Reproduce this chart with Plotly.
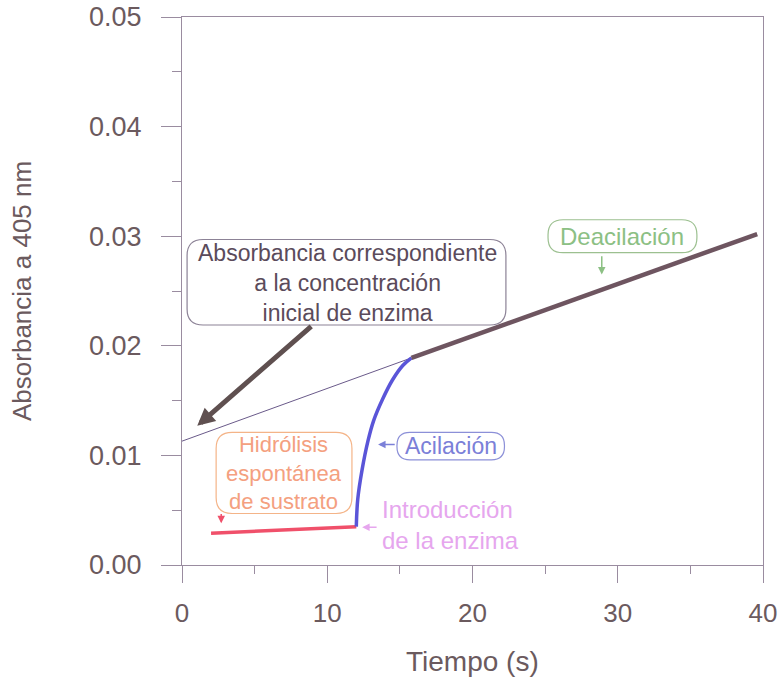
import plotly.graph_objects as go

# ---------------- data ----------------
hidrolisis_t = [2.0, 12.0]
hidrolisis_a = [0.0029, 0.0035]

acilacion_t = [12.0, 12.1, 12.4, 12.8, 13.2, 13.8, 14.5, 15.2, 15.8]
acilacion_a = [0.0035, 0.0060, 0.0087, 0.0113, 0.0132, 0.0151, 0.0169, 0.0182, 0.0189]

deacilacion_t = [15.8, 39.6]
deacilacion_a = [0.0189, 0.0302]

extrapol_t = [0.0, 15.8]
extrapol_a = [0.0113, 0.0189]

x_ticks = [0, 10, 20, 30, 40]
y_ticks = [0.00, 0.01, 0.02, 0.03, 0.04, 0.05]

X_RANGE = [0, 40]
Y_RANGE = [0, 0.05]

# ---------------- layout constants ----------------
W, H = 781, 680
ML, MR, MT, MB = 182, 18, 17, 115
PX_X = (W - ML - MR) / (X_RANGE[1] - X_RANGE[0])
PX_Y = (H - MT - MB) / (Y_RANGE[1] - Y_RANGE[0])

FONT = "Arial, Liberation Sans, sans-serif"
TXT = "#6b5a5e"
AXC = "#9a8ca0"

fig = go.Figure()

fig.add_trace(go.Scatter(x=extrapol_t, y=extrapol_a, mode="lines",
                         line=dict(color="#6a5a8a", width=1), showlegend=False))
fig.add_trace(go.Scatter(x=hidrolisis_t, y=hidrolisis_a, mode="lines",
                         line=dict(color="#f0506a", width=3.5), showlegend=False))
fig.add_trace(go.Scatter(x=acilacion_t, y=acilacion_a, mode="lines", line_shape="spline",
                         line=dict(color="#5a55d8", width=3.5), showlegend=False))
fig.add_trace(go.Scatter(x=deacilacion_t, y=deacilacion_a, mode="lines",
                         line=dict(color="#6e5560", width=4.5), showlegend=False))


def rrect(x0, x1, y0, y1, rpx):
    rx = rpx / PX_X
    ry = rpx / PX_Y
    return (f"M {x0+rx},{y1} L {x1-rx},{y1} Q {x1},{y1} {x1},{y1-ry} "
            f"L {x1},{y0+ry} Q {x1},{y0} {x1-rx},{y0} L {x0+rx},{y0} "
            f"Q {x0},{y0} {x0},{y0+ry} L {x0},{y1-ry} Q {x0},{y1} {x0+rx},{y1} Z")


boxes = [
    (0.35, 22.3, 0.0219, 0.0297, 16, "#8c8296"),
    (25.2, 35.45, 0.0285, 0.0315, 15, "#9cc090"),
    (14.8, 22.2, 0.0096, 0.0121, 13, "#8c90d8"),
    (2.35, 11.7, 0.0047, 0.0121, 16, "#f4b488"),
]
for x0, x1, y0, y1, r, c in boxes:
    fig.add_shape(type="path", path=rrect(x0, x1, y0, y1, r), xref="x", yref="y",
                  line=dict(color=c, width=1.2), layer="above")

ann = []
ann.append(dict(x=11.4, y=0.02575, xref="x", yref="y", showarrow=False,
                text="Absorbancia correspondiente<br>a la concentración<br>inicial de enzima",
                font=dict(family=FONT, size=23, color="#5b4b5b"), align="center"))
ann.append(dict(x=30.3, y=0.0300, xref="x", yref="y", showarrow=False, text="Deacilación",
                font=dict(family=FONT, size=24, color="#8cc084")))
ann.append(dict(x=18.5, y=0.01085, xref="x", yref="y", showarrow=False, text="Acilación",
                font=dict(family=FONT, size=23, color="#7b80d8")))
ann.append(dict(x=7.0, y=0.0084, xref="x", yref="y", showarrow=False,
                text="Hidrólisis<br>espontánea<br>de sustrato",
                font=dict(family=FONT, size=22, color="#f4a080"), align="center"))
ann.append(dict(x=13.65, y=0.00365, xref="x", yref="y", showarrow=False, xanchor="left",
                text="Introducción<br>de la enzima",
                font=dict(family=FONT, size=24, color="#e6a6ee"), align="left"))

# axis titles
ann.append(dict(x=0.5, y=0, xref="paper", yref="paper", showarrow=False, yanchor="middle",
                yshift=-96, text="Tiempo (s)", font=dict(family=FONT, size=28, color=TXT)))
ann.append(dict(x=0, y=0.5, xref="paper", yref="paper", showarrow=False, xanchor="center",
                xshift=-160, textangle=-90, text="Absorbancia a 405 nm",
                font=dict(family=FONT, size=26, color=TXT)))

# arrows
arrows = [
    (1.05, 0.0127, 9.0, 0.0219, "#5f5050", 5, 0.7),
    (28.9, 0.0265, 28.9, 0.0283, "#8cc084", 1.5, 1.0),
    (13.5, 0.0110, 14.75, 0.0110, "#7b80d8", 1.5, 1.0),
    (2.7, 0.0038, 2.7, 0.0048, "#f0506a", 1.5, 1.0),
    (12.4, 0.00345, 13.5, 0.00345, "#e6a6ee", 1.5, 1.0),
]
for x, y, ax, ay, c, w, s in arrows:
    ann.append(dict(x=x, y=y, ax=ax, ay=ay, xref="x", yref="y", axref="x", ayref="y",
                    showarrow=True, arrowhead=2, arrowcolor=c, arrowwidth=w, arrowsize=s,
                    text=""))

fig.update_layout(
    width=W, height=H,
    margin=dict(l=ML, r=MR, t=MT, b=MB, autoexpand=False),
    paper_bgcolor="white", plot_bgcolor="white",
    annotations=ann,
    font=dict(family=FONT, color=TXT),
)

fig.update_xaxes(
    range=X_RANGE, tickvals=x_ticks, ticktext=[str(v) for v in x_ticks],
    showgrid=False, zeroline=False, showline=True, linecolor=AXC, linewidth=1.2, mirror=True,
    ticks="outside", ticklen=17, tickcolor=AXC, tickwidth=1.2, automargin=False,
    ticklabeloverflow="allow",
    minor=dict(ticks="outside", dtick=5, ticklen=8, tickcolor=AXC, showgrid=False),
    tickfont=dict(family=FONT, size=26, color=TXT), ticklabelstandoff=8,
)
fig.update_yaxes(
    range=Y_RANGE, tickvals=y_ticks, tickformat=".2f",
    showgrid=False, zeroline=False, showline=True, linecolor=AXC, linewidth=1.2, mirror=True,
    ticks="outside", ticklen=20, tickcolor=AXC, tickwidth=1.2, automargin=False,
    ticklabeloverflow="allow",
    minor=dict(ticks="outside", dtick=0.005, ticklen=9, tickcolor=AXC, showgrid=False),
    tickfont=dict(family=FONT, size=27, color=TXT), ticklabelstandoff=14,
)

fig.write_html("out.html", config={"displayModeBar": False},
               post_script="document.body.style.margin='0';")
